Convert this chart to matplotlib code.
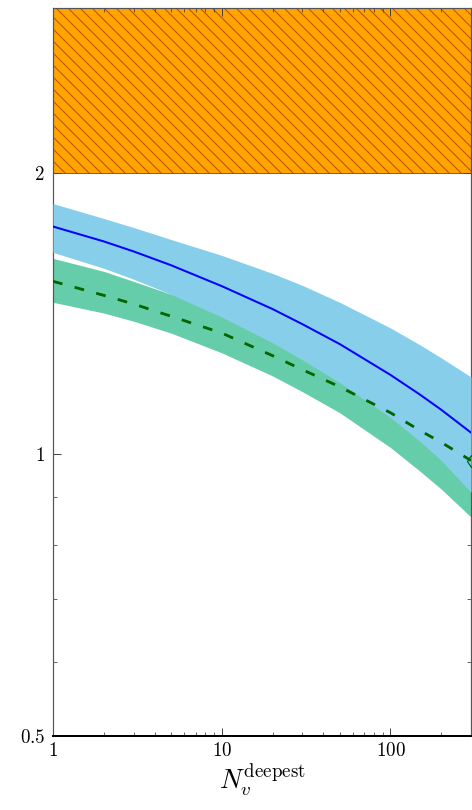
import numpy as np
import matplotlib
matplotlib.use('Agg')
import matplotlib.pyplot as plt
from matplotlib.ticker import FixedLocator, FixedFormatter, NullFormatter

plt.rcParams['mathtext.fontset'] = 'cm'
plt.rcParams['font.family'] = 'serif'
plt.rcParams['hatch.linewidth'] = 1.0

# N_v^deepest
n_deep = [1, 2, 3, 5, 10, 20, 30, 50, 100, 150, 200, 300]

# blue model (solid line + band)
blue_mid = [1.752, 1.689, 1.648, 1.593, 1.513, 1.430, 1.378, 1.312, 1.216, 1.158, 1.116, 1.055]
blue_hi = [1.854, 1.787, 1.748, 1.697, 1.632, 1.561, 1.516, 1.454, 1.365, 1.309, 1.268, 1.210]
blue_lo = [1.644, 1.581, 1.539, 1.483, 1.402, 1.316, 1.262, 1.193, 1.095, 1.032, 0.985, 0.911]

# green model (dashed line + band)
green_mid = [1.531, 1.479, 1.448, 1.405, 1.348, 1.275, 1.232, 1.181, 1.108, 1.060, 1.030, 0.985]
green_hi = [1.620, 1.569, 1.531, 1.483, 1.433, 1.358, 1.316, 1.262, 1.202, 1.158, 1.130, 1.089]
green_lo = [1.454, 1.416, 1.388, 1.348, 1.284, 1.213, 1.167, 1.108, 1.017, 0.959, 0.918, 0.857]

excluded = (2.0, 3.0)  # hatched region

x_ticks = [1, 10, 100]
x_labels = ['$1$', '$10$', '$100$']
y_ticks = [0.5, 1, 2]
y_labels = ['$0.5$', '$1$', '$2$']

fig = plt.figure(figsize=(472 / 72, 810 / 72), dpi=72)
ax = fig.add_axes([53 / 472, 1 - 736 / 810, 418 / 472, 728 / 810])
ax.set_xscale('log')
ax.set_yscale('log')

ax.axhspan(excluded[0], excluded[1], facecolor='orange', edgecolor='#c24a00',
           hatch='\\\\', linewidth=1.0, zorder=1)

ax.fill_between(n_deep, green_lo, green_hi, color='mediumaquamarine', lw=0, zorder=2)
ax.fill_between(n_deep, blue_lo, blue_hi, color='skyblue', lw=0, zorder=3)
ax.plot(n_deep, blue_mid, color='blue', lw=2, zorder=4)
ax.plot(n_deep, green_mid, color='darkgreen', lw=2.8, dashes=(3.5, 4.5), zorder=4)
ax.plot(n_deep[-1:], green_mid[-1:], marker='d', ms=9, mfc='none',
        mec='darkgreen', mew=1.2, ls='none', zorder=5)

ax.set_xlim(1, 300)
ax.set_ylim(0.5, 3.0)

ax.xaxis.set_major_locator(FixedLocator(x_ticks))
ax.xaxis.set_major_formatter(FixedFormatter(x_labels))
ax.xaxis.set_minor_locator(FixedLocator([2, 3, 4, 5, 6, 7, 8, 9, 20, 30, 40, 50, 60, 70, 80, 90, 200, 300]))
ax.xaxis.set_minor_formatter(NullFormatter())
ax.yaxis.set_major_locator(FixedLocator(y_ticks))
ax.yaxis.set_major_formatter(FixedFormatter(y_labels))
ax.yaxis.set_minor_locator(FixedLocator([0.6, 0.7, 0.8, 0.9]))
ax.yaxis.set_minor_formatter(NullFormatter())

ax.tick_params(which='both', direction='in', top=True, right=True, labelsize=19,
               color='#444444')
ax.tick_params(axis='y', pad=8)
ax.tick_params(axis='x', pad=6)
ax.tick_params(which='major', length=8, width=1)
ax.tick_params(which='minor', length=4, width=0.8)

for s in ['left', 'right', 'top']:
    ax.spines[s].set_color('#555555')
    ax.spines[s].set_linewidth(1.2)
ax.spines['bottom'].set_linewidth(2)
ax.spines['bottom'].set_zorder(6)

ax.set_xlabel(r'$N_v^{\rm deepest}$', fontsize=27, labelpad=2)

fig.savefig('out.png', dpi=72)
